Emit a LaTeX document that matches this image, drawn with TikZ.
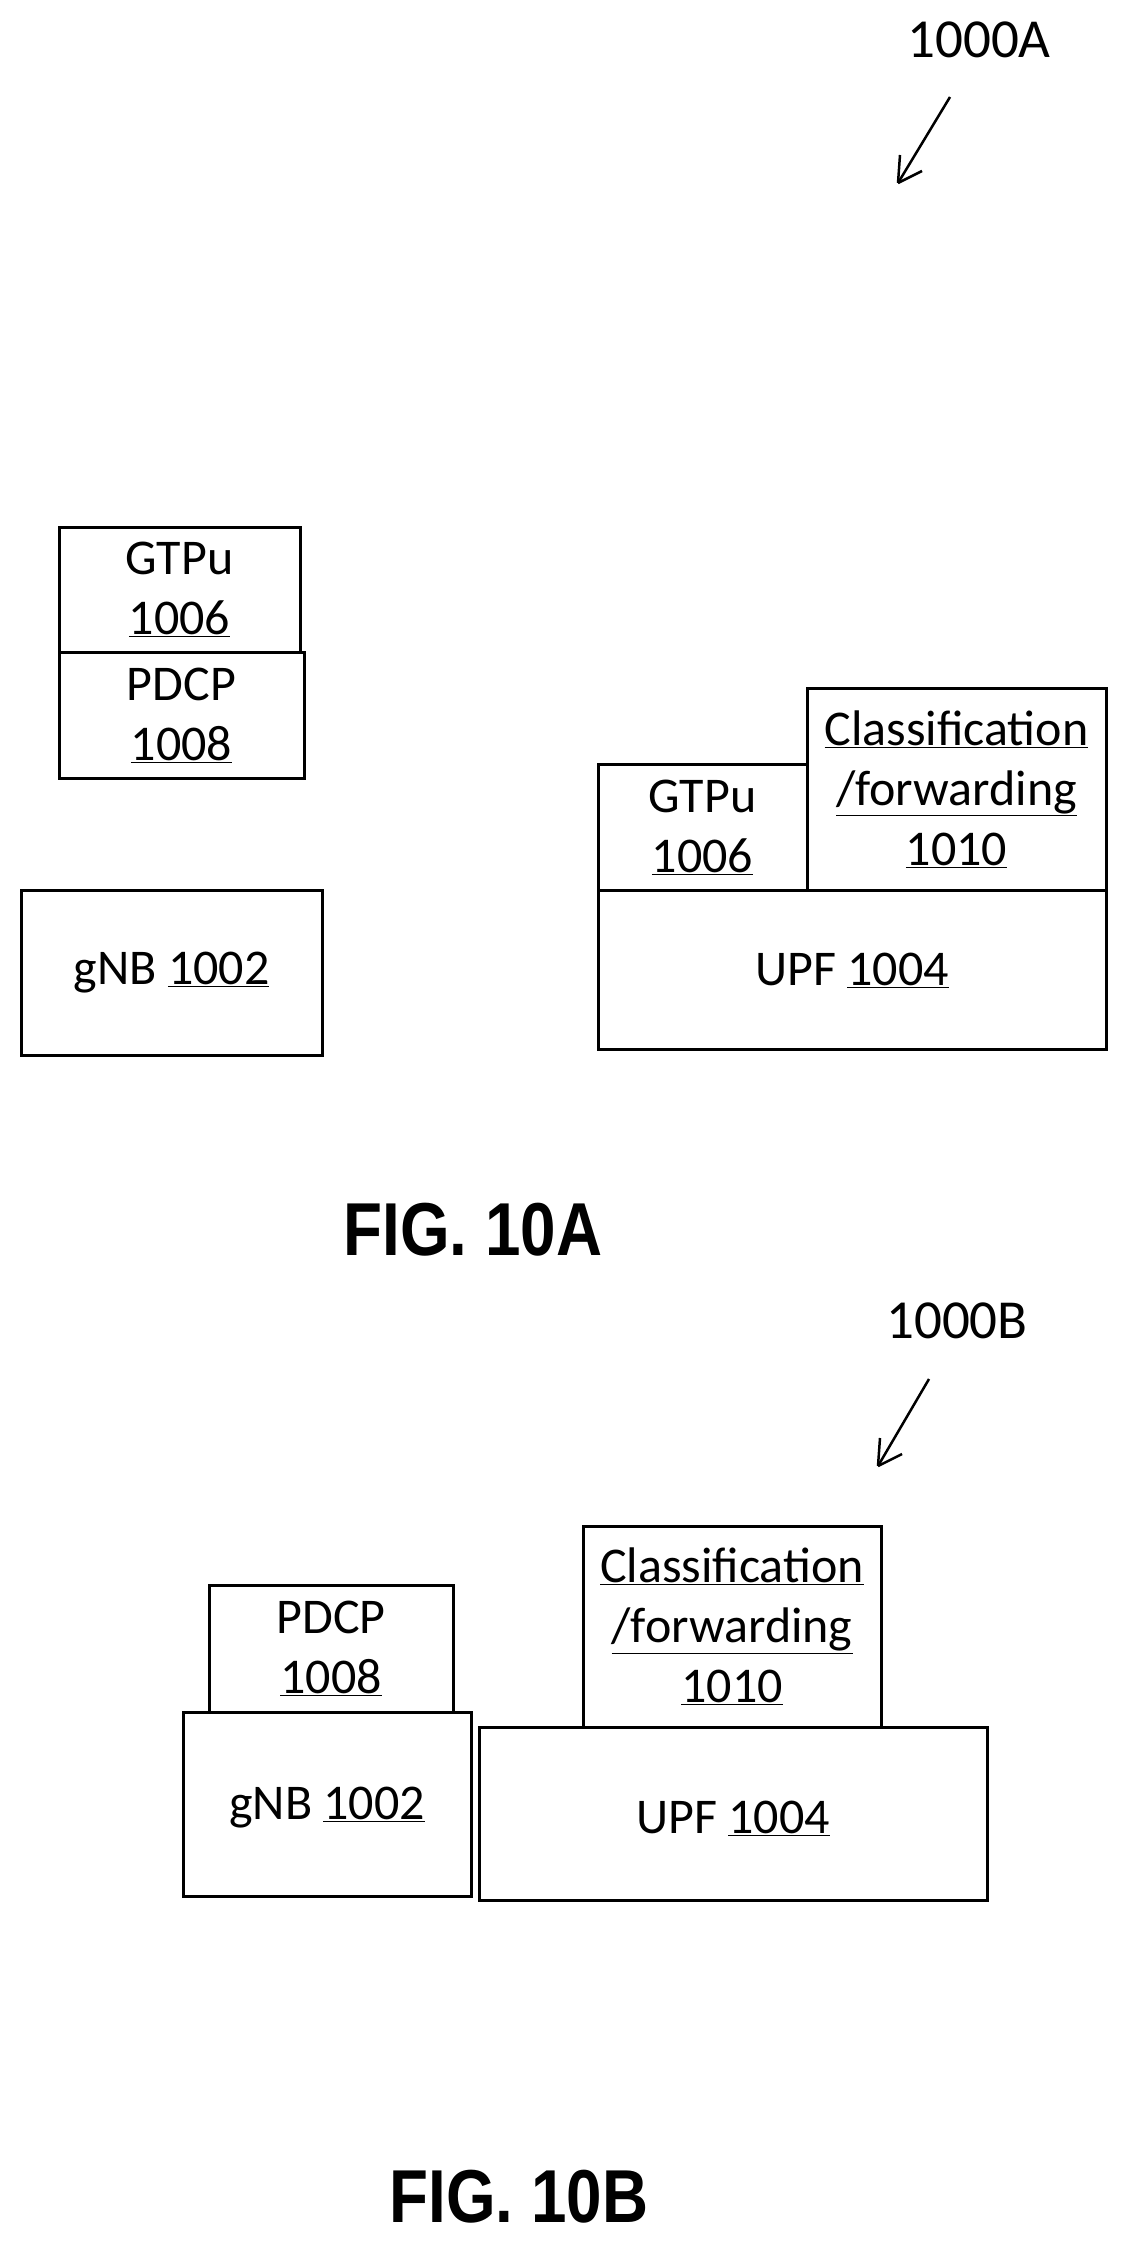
\documentclass[tikz,border=0pt]{standalone}
\usepackage{fontspec}
\setmainfont{Carlito}
\newfontfamily\figfont{Liberation Sans}
\begin{document}
\begin{tikzpicture}[x=1pt,y=-1pt,
  box/.style={draw,line width=3pt,inner sep=0pt},
  lbl/.style={font=\fontsize{50}{60}\selectfont,align=center},
  fig/.style={font=\figfont\bfseries\fontsize{75}{75}\selectfont,xscale=0.85},
  ref/.style={font=\fontsize{55}{60}\selectfont},
  pt/.style={line width=2.5pt}]
\useasboundingbox (0,0) rectangle (1132,2253);
% Fig 10A
\draw[box] (59,527) rectangle (300,652);
\node[lbl] (gtpa) at (179.5,589.5) {GTPu\\\underline{1006}};
\draw[box] (59,652) rectangle (304,778);
\node[lbl] (pdcpa) at (181.5,715) {PDCP\\\underline{1008}};
\draw[box] (21,890) rectangle (322,1055);
\node[lbl] (gnba) at (171.5,972.5) {gNB \underline{1002}};
\draw[box] (598,890) rectangle (1106,1049);
\node[lbl] (upfa) at (852,970) {UPF \underline{1004}};
\draw[box] (598,764) rectangle (807,890);
\node[lbl] (gtpa2) at (702.5,827) {GTPu\\\underline{1006}};
\draw[box] (807,688) rectangle (1106,890);
\node[lbl] (cla) at (956.5,789) {\underline{Classification}\\\underline{/forwarding}\\\underline{1010}};
\node[fig] (figa) at (473,1230) {FIG. 10A};
\node[ref] (refa) at (979,40) {1000A};
\coordinate (aa1) at (950,97); \coordinate (aa2) at (898,183);
\draw[pt] (aa1) -- (aa2);
\draw[pt] (aa2) -- ++(2,-28); \draw[pt] (aa2) -- ++(24,-12);
% Fig 10B
\draw[box] (209,1585) rectangle (453,1712);
\node[lbl] (pdcpb) at (331,1648.5) {PDCP\\\underline{1008}};
\draw[box] (183,1712) rectangle (471,1896);
\node[lbl] (gnbb) at (327,1808) {gNB \underline{1002}};
\draw[box] (583,1526) rectangle (881,1727);
\node[lbl] (clb) at (732,1626.5) {\underline{Classification}\\\underline{/forwarding}\\\underline{1010}};
\draw[box] (479,1727) rectangle (987,1900);
\node[lbl] (upfb) at (733,1818) {UPF \underline{1004}};
\node[fig] (figb) at (519,2197) {FIG. 10B};
\node[ref] (refb) at (957,1321) {1000B};
\coordinate (ab1) at (929,1379); \coordinate (ab2) at (878,1466);
\draw[pt] (ab1) -- (ab2);
\draw[pt] (ab2) -- ++(2,-28); \draw[pt] (ab2) -- ++(24,-12);
\end{tikzpicture}
\end{document}
